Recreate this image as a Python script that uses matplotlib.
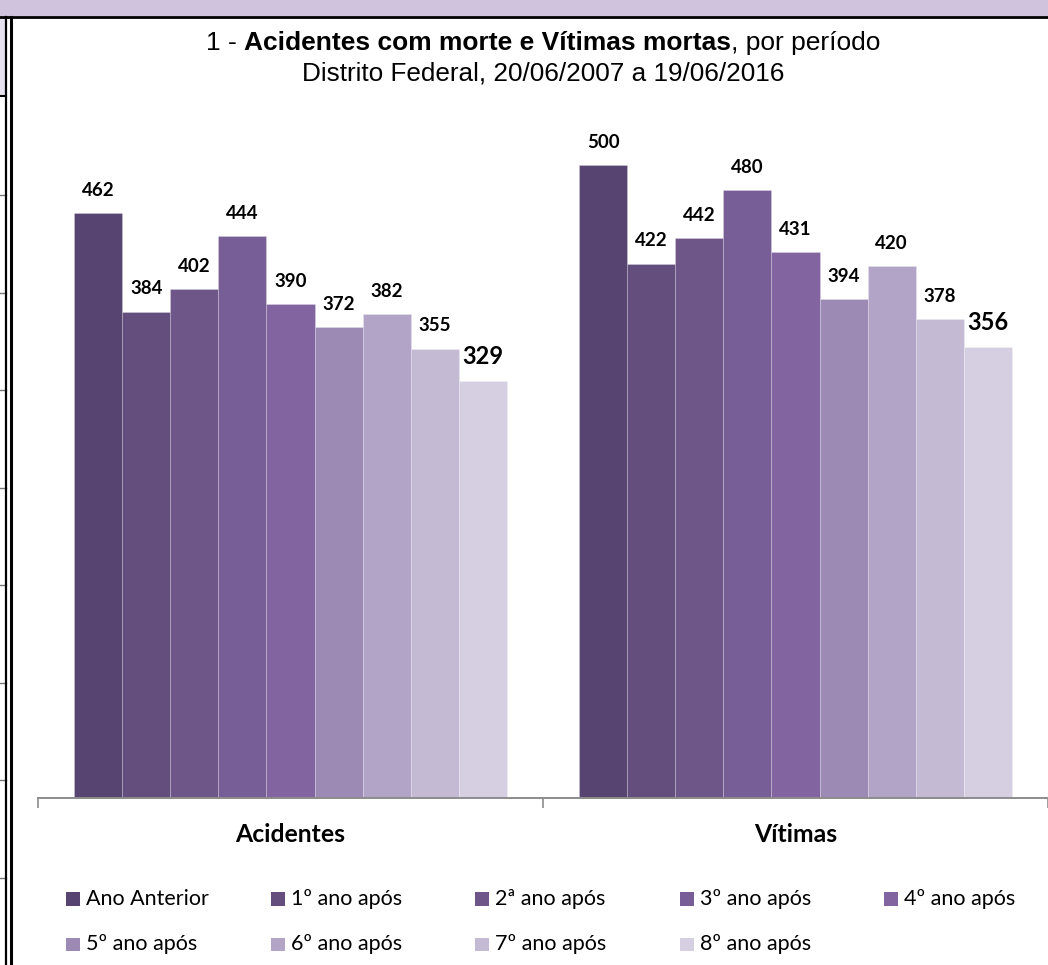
import matplotlib
matplotlib.use("Agg")
import matplotlib.pyplot as plt
from matplotlib.patches import Rectangle
from matplotlib.lines import Line2D
import numpy as np

categories = ["Acidentes", "Vítimas"]
series_labels = ["Ano Anterior", "1º ano após", "2ª ano após", "3º ano após", "4º ano após",
                 "5º ano após", "6º ano após", "7º ano após", "8º ano após"]
acidentes = [462, 384, 402, 444, 390, 372, 382, 355, 329]
vitimas = [500, 422, 442, 480, 431, 394, 420, 378, 356]
colors = ["#574470", "#634E7E", "#6E5689", "#785E97", "#8264A1",
          "#9D8AB4", "#B2A4C7", "#C4BAD3", "#D5CFE1"]

W, H = 1048, 965
fig = plt.figure(figsize=(W / 100, H / 100), dpi=100)
fig.patch.set_facecolor("white")


def fx(px):
    return px / W


def fy(py):
    return 1 - py / H


# --- sheet decorations (spreadsheet frame) ---
fig.add_artist(Rectangle((0, fy(16)), 1, fy(0) - fy(16), transform=fig.transFigure,
                         facecolor="#CFC3DD", edgecolor="none"))
fig.add_artist(Line2D([0, 1], [fy(17), fy(17)], transform=fig.transFigure, color="black", lw=2))
fig.add_artist(Rectangle((0, fy(95)), fx(5), fy(18) - fy(95), transform=fig.transFigure,
                         facecolor="#E6E1EE", edgecolor="none"))
fig.add_artist(Line2D([0, fx(6)], [fy(95.5), fy(95.5)], transform=fig.transFigure, color="black", lw=1.5))
for yy in [195, 293, 390, 488, 585, 683, 780, 878]:
    fig.add_artist(Line2D([0, fx(6)], [fy(yy), fy(yy)], transform=fig.transFigure, color="#777777", lw=1))
fig.add_artist(Line2D([fx(6), fx(6)], [0, fy(17)], transform=fig.transFigure, color="black", lw=1.6))
fig.add_artist(Line2D([fx(10.5), fx(10.5)], [0, fy(17)], transform=fig.transFigure, color="black", lw=2.2))

# --- axes ---
ax_left, ax_right, ax_bottom, ax_top = 38, 1048, 798, 100
ax = fig.add_axes([fx(ax_left), fy(ax_bottom), fx(ax_right - ax_left), fy(ax_top) - fy(ax_bottom)])
ppu = 1.266
ax.set_ylim(0, (ax_bottom - ax_top) / ppu)
ax.set_xlim(-0.5, 1.5)

n = len(series_labels)
bw = 48.1 / 505
x = np.arange(len(categories))
for i in range(n):
    vals = [acidentes[i], vitimas[i]]
    pos = x + (i - (n - 1) / 2) * bw
    ax.bar(pos, vals, width=bw, color=colors[i], edgecolor=(1, 1, 1, 0.25), linewidth=0.6)
    big = (i == n - 1)
    for xp, v in zip(pos, vals):
        ax.annotate(str(v), (xp, v), xytext=(0, 12.5), textcoords="offset points",
                    ha="center", va="baseline", family="Lato", weight="bold",
                    fontsize=17 if big else 13.5, color="black")

for s in ["top", "right", "left"]:
    ax.spines[s].set_visible(False)
ax.spines["bottom"].set_color("#8C8C8C")
ax.spines["bottom"].set_linewidth(1.4)
ax.set_yticks([])
ax.set_xticks(x)
ax.set_xticklabels(categories, family="Lato", weight="bold", fontsize=17.8)
ax.tick_params(axis="x", which="major", length=0, pad=18)
ax.set_xticks([-0.5, 0.5, 1.5], minor=True)
ax.tick_params(axis="x", which="minor", length=7, width=1.2, color="#8C8C8C", direction="out")

# --- title ---
fig.canvas.draw()
r = fig.canvas.get_renderer()
tsize = 19
parts = [("1 - ", "normal"), ("Acidentes com morte e Vítimas mortas", "bold"), (", por período", "normal")]
texts = []
for s, w in parts:
    t = fig.text(0, fy(43), s, family="Liberation Sans", weight=w, fontsize=tsize,
                 ha="left", va="center", color="black")
    texts.append(t)
widths = [t.get_window_extent(r).width for t in texts]
total = sum(widths)
xstart = 543 - total / 2
for t, wd in zip(texts, widths):
    t.set_x(fx(xstart))
    xstart += wd
fig.text(fx(543), fy(74), "Distrito Federal, 20/06/2007 a 19/06/2016", family="Liberation Sans",
         fontsize=tsize * 0.99, ha="center", va="center", color="black")

# --- legend ---
col_x = [66, 271, 475, 680, 884]
row_y = [899, 944]
for i, lab in enumerate(series_labels):
    rr, cc = divmod(i, 5)
    mx, my = col_x[cc], row_y[rr]
    fig.add_artist(Rectangle((fx(mx), fy(my + 6.5)), fx(14), fy(my - 6.5) - fy(my + 6.5),
                             transform=fig.transFigure, facecolor=colors[i], edgecolor="none"))
    fig.text(fx(mx + 20), fy(my), lab, family="Lato", fontsize=15.5, ha="left", va="center",
             color="black")

fig.savefig("out.png", dpi=100)
